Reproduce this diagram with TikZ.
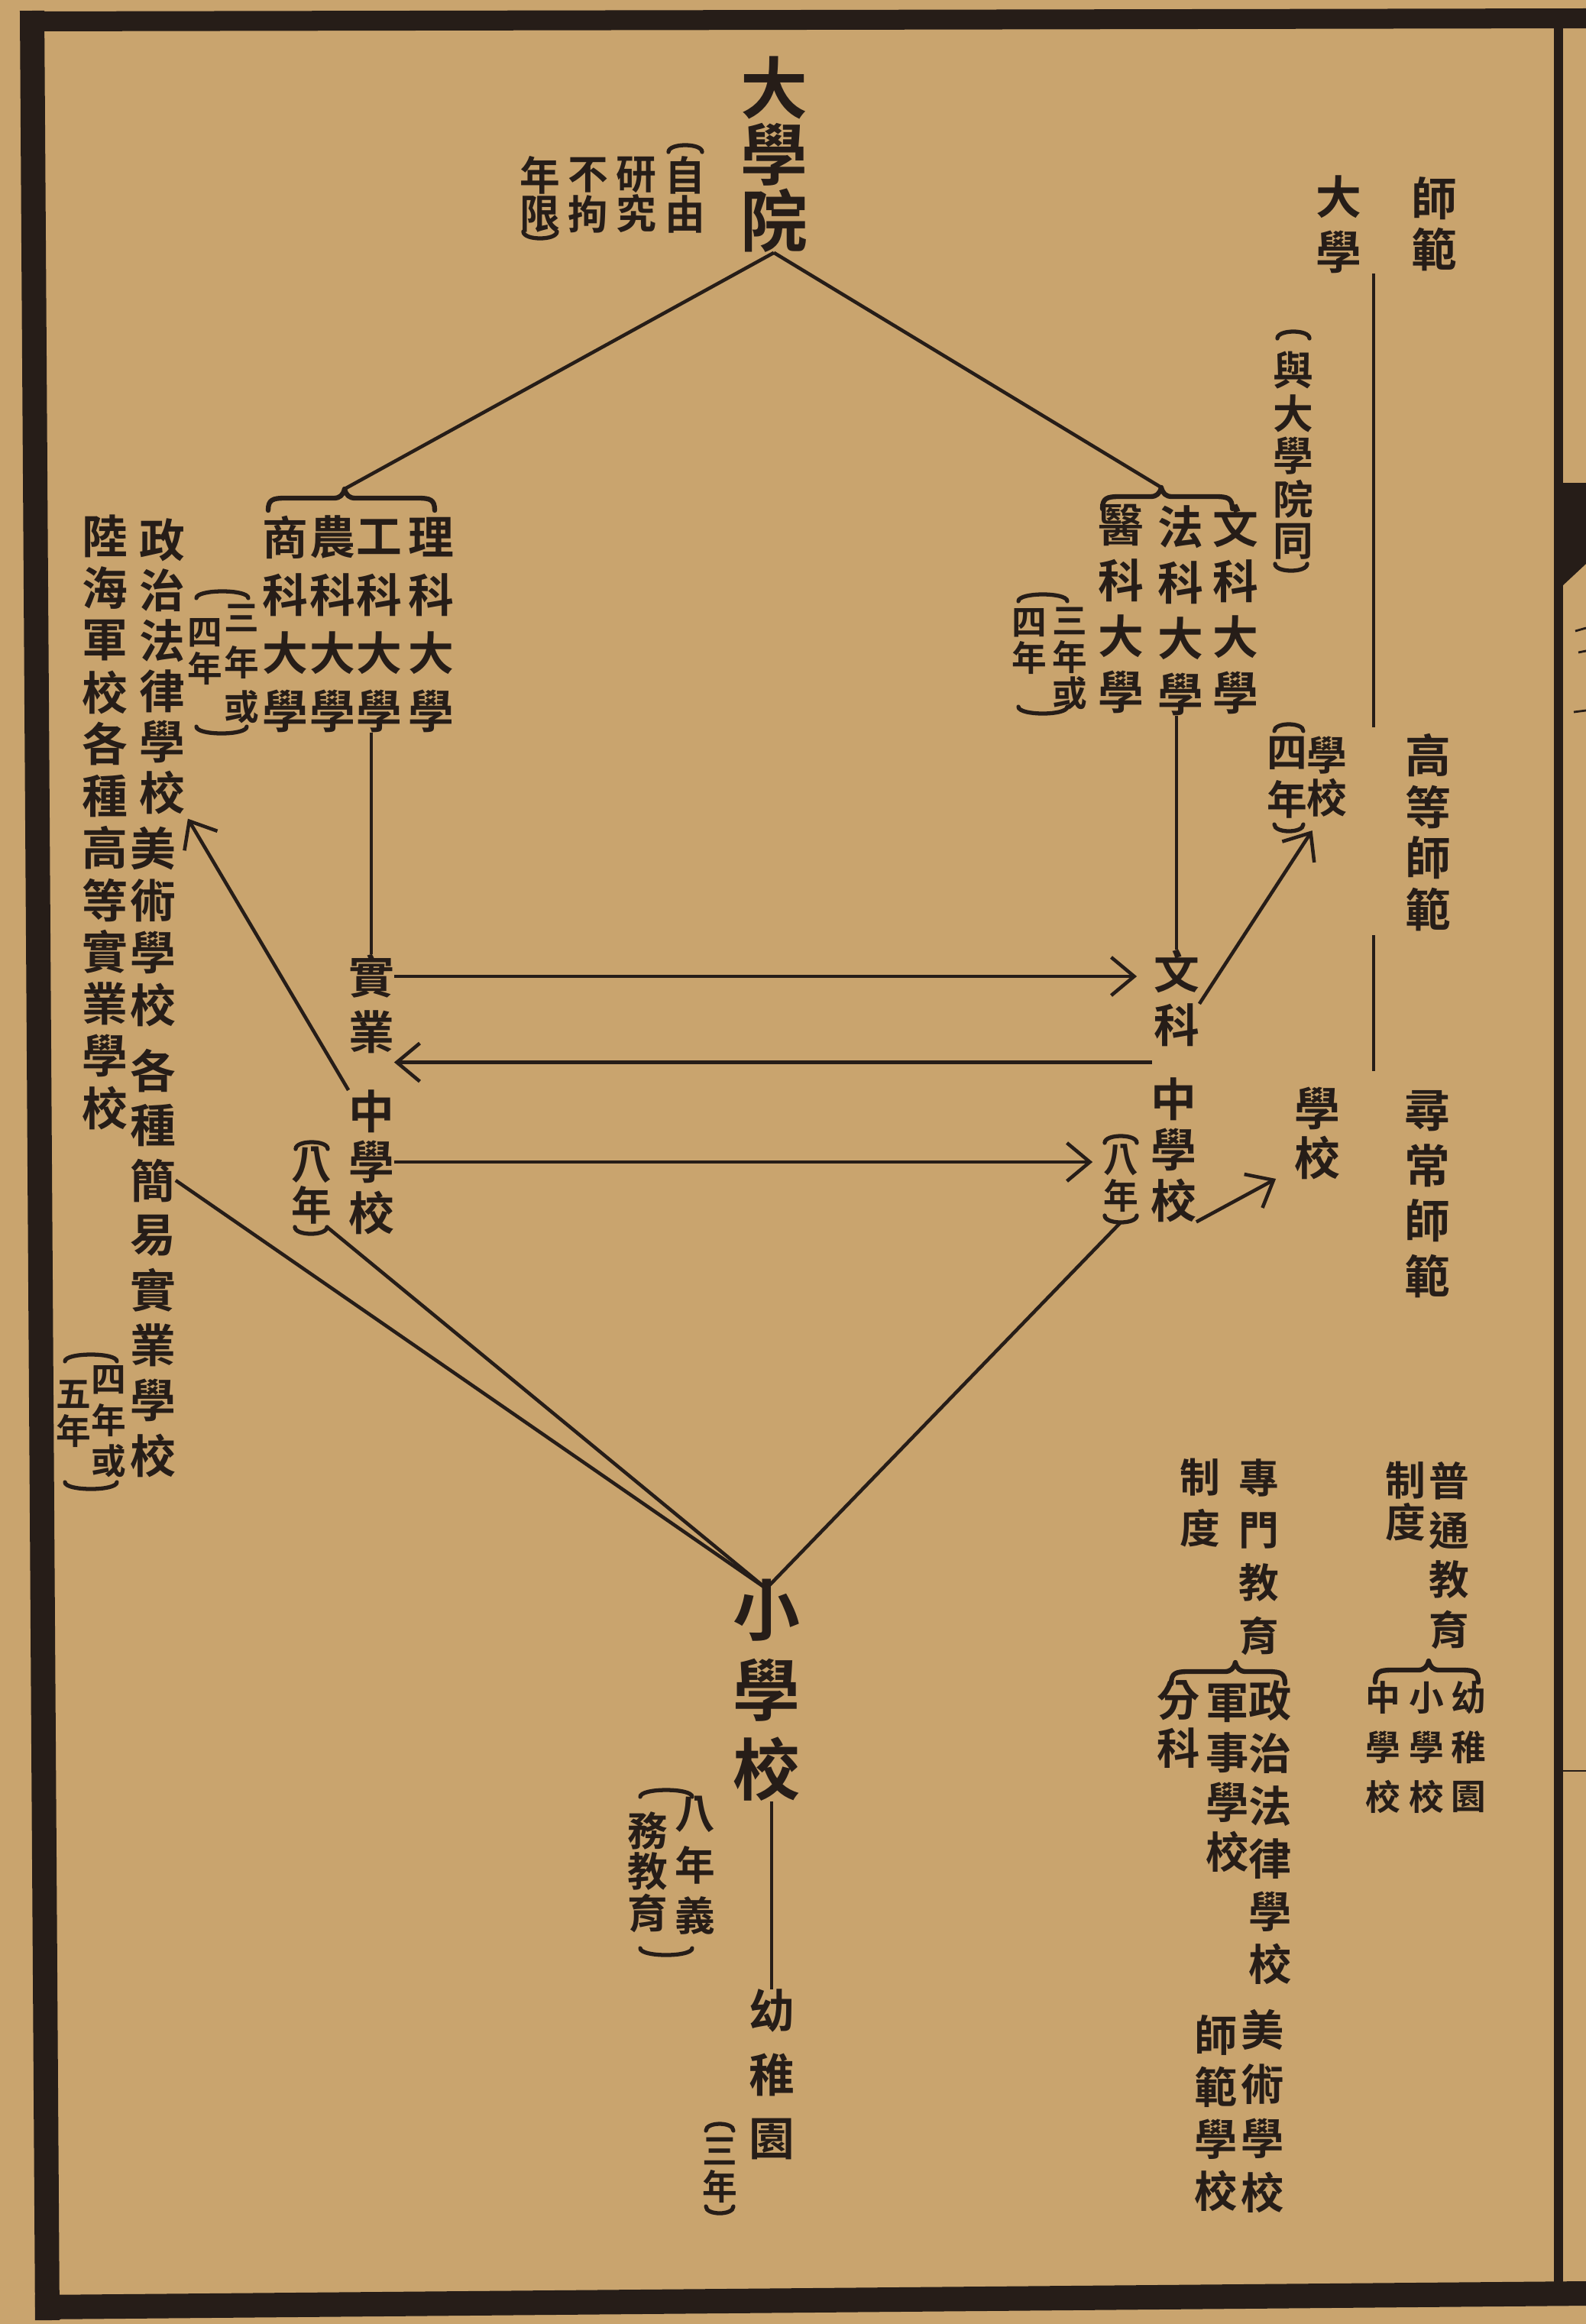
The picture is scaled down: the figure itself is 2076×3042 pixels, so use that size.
\documentclass[tikz,border=0pt]{standalone}
\usepackage{fontspec}
\newfontfamily\cjk{Noto Sans CJK TC}[BoldFont={Noto Sans CJK TC Bold}]
\usetikzlibrary{arrows.meta,calc}
\definecolor{paper}{RGB}{201,164,110}
\definecolor{ink}{RGB}{38,29,24}
\tikzset{
 ch/.style={inner sep=0pt, outer sep=0pt, text=ink, anchor=center},
 big/.style={ch, font={\cjk\bfseries\fontsize{25pt}{25pt}\selectfont}},
 mid/.style={ch, font={\cjk\bfseries\fontsize{17pt}{17pt}\selectfont}},
 smid/.style={ch, font={\cjk\bfseries\fontsize{16pt}{16pt}\selectfont}},
 sm/.style={ch, font={\cjk\bfseries\fontsize{15pt}{15pt}\selectfont}},
 xs/.style={ch, font={\cjk\bfseries\fontsize{13pt}{13pt}\selectfont}},
 conn/.style={draw=ink, line width=1.3pt},
 arr/.style={-{Straight Barb[length=3mm,width=5mm]}},
 paren/.style={draw=ink, line width=1.5pt, line cap=round},
 bracest/.style={draw=ink, line width=1.8pt, line cap=round, line join=round},
 frame/.style={draw=ink},
}
% vertical column: name, x, y of first char, step, style, chars
\newcommand\vcol[6]{%
  \foreach \vch [count=\ii from 0] in {#6}{%
    \node[#5] (#1-\ii) at (#2,{#3+\ii*#4}) {\vch};}}
% upper paren (arch up): name, x, y, half width
\newcommand\parup[4]{%
  \draw[paren] ({#2-#4},{#3+7}) .. controls ({#2-#4},{#3-5}) and ({#2+#4},{#3-5}) .. ({#2+#4},{#3+7});
  \coordinate (#1) at (#2,#3);}
% lower paren (arch down)
\newcommand\pardn[4]{%
  \draw[paren] ({#2-#4},{#3-7}) .. controls ({#2-#4},{#3+5}) and ({#2+#4},{#3+5}) .. ({#2+#4},{#3-7});
  \coordinate (#1-l) at ({#2-#4},{#3-7});
  \coordinate (#1-r) at ({#2+#4},{#3-7});
  \coordinate (#1) at (#2,{#3+2});}
% brace: xL, xApex, xR, y
\newcommand\brc[4]{%
  \draw[bracest] (#1,{#4+16}) .. controls (#1,{#4+2}) and ({#1+6},#4) .. ({#1+22},#4)
    -- ({#2-14},#4) .. controls ({#2-6},#4) and ({#2-2},{#4-4}) .. (#2,{#4-12})
    .. controls ({#2+2},{#4-4}) and ({#2+6},#4) .. ({#2+14},#4)
    -- ({#3-22},#4) .. controls ({#3-6},#4) and (#3,{#4+2}) .. (#3,{#4+16});}
\begin{document}
\begin{tikzpicture}[x=0.01cm,y=-0.01cm]
\useasboundingbox (0,0) rectangle (2076,3042);
\fill[paper] (0,0) rectangle (2076,3042);
% frame
\draw[frame, line width=0.26cm] (28,28) -- (2076,24);
\draw[frame, line width=0.32cm] (42,14) -- (62,3037);
\draw[frame, line width=0.32cm] (46,3020) -- (2076,3002);
\draw[frame, line width=0.12cm] (2040,24) -- (2040,3008);
% fragments of next page
\fill[ink] (2046,632) -- (2076,632) -- (2076,738) -- (2046,766) -- cycle;
\draw[frame, line width=0.8pt] (2062,826) -- (2076,822);
\draw[frame, line width=0.8pt] (2066,854) -- (2076,852);
\draw[frame, line width=0.8pt] (2060,932) -- (2076,930);
\draw[frame, line width=0.8pt] (2046,2318) -- (2076,2318);

% ---- top
\vcol{dxy}{1013}{115}{87}{big}{大,學,院}
\vcol{nta}{897}{229}{51}{sm}{自,由}
\vcol{ntb}{833}{229}{51}{sm}{研,究}
\vcol{ntc}{770}{229}{51}{sm}{不,拘}
\vcol{ntd}{707}{229}{51}{sm}{年,限}
\parup{ntpu}{897}{192}{22}
\pardn{ntpd}{707}{310}{22}

% ---- left group
\brc{351}{451}{569}{652}
\coordinate (lbA) at (451,640);
\vcol{li}{564}{703}{76}{mid}{理,科,大,學}
\vcol{gong}{496}{703}{76}{mid}{工,科,大,學}
\vcol{nong}{435}{703}{76}{mid}{農,科,大,學}
\vcol{shang}{373}{703}{76}{mid}{商,科,大,學}
\vcol{lna}{316}{809}{58}{xs}{三,年,或}
\vcol{lnb}{268}{828}{47}{xs}{四,年}
\parup{lnpu}{291}{776}{34}
\pardn{lnpd}{290}{958}{33}

% ---- far left
\vcol{zz}{212}{707}{66}{mid}{政,治,法,律,學,校}
\vcol{ms}{200}{1111}{68}{mid}{美,術,學,校}
\vcol{gz}{200}{1401}{72}{mid}{各,種,簡,易,實,業,學,校}
\vcol{lh}{137}{702}{68}{mid}{陸,海,軍,校,各,種,高,等,實,業,學,校}
\vcol{lfa}{142}{1806}{53}{xs}{四,年,或}
\vcol{lfb}{96}{1825}{48}{xs}{五,年}
\parup{lfpu}{119}{1775}{34}
\pardn{lfpd}{119}{1947}{34}

% ---- middle left
\vcol{sy}{486}{1278}{73}{mid}{實,業}
\vcol{zxl}{486}{1455}{66}{mid}{中,學,校}
\vcol{bnL}{408}{1525}{52}{sm}{八,年}
\parup{bnLu}{408}{1497}{21}
\pardn{bnLd}{407}{1613}{21}

% ---- right group
\brc{1443}{1520}{1613}{650}
\coordinate (rbA) at (1520,638);
\vcol{wen}{1617}{688}{73}{mid}{文,科,大,學}
\vcol{fa}{1545}{690}{73}{mid}{法,科,大,學}
\vcol{yi}{1467}{687}{73}{mid}{醫,科,大,學}
\vcol{rna}{1400}{813}{47}{xs}{三,年,或}
\vcol{rnb}{1347}{815}{46}{xs}{四,年}
\parup{rnpu}{1365}{780}{32}
\pardn{rnpd}{1365}{932}{32}
\vcol{wk}{1540}{1271}{71}{mid}{文,科}
\vcol{zxr}{1536}{1439}{66}{mid}{中,學,校}
\vcol{bnR}{1467}{1518}{47}{xs}{八,年}
\parup{bnRu}{1467}{1489}{21}
\pardn{bnRd}{1467}{1598}{21}

% ---- right legend
\vcol{dx2}{1752}{258}{72}{mid}{大,學}
\vcol{sf}{1877}{260}{67}{mid}{師,範}
\vcol{yd}{1693}{485}{56}{sm}{與,大,學,院,同}
\parup{ydu}{1693}{436}{21}
\pardn{ydd}{1690}{745}{21}
\vcol{sx4}{1737}{989}{55}{sm}{學,校}
\vcol{sn}{1685}{986}{60}{sm}{四,年}
\parup{snu}{1687}{950}{19}
\pardn{snd}{1687}{1086}{19}
\vcol{gd}{1869}{989}{67}{mid}{高,等,師,範}
\vcol{xx}{1724}{1451}{64}{mid}{學,校}
\vcol{xc}{1868}{1454}{72}{mid}{尋,常,師,範}
\coordinate (s1a) at (1798,358);
\coordinate (s1b) at (1798,952);
\coordinate (s2a) at (1798,1224);
\coordinate (s2b) at (1798,1402);
\draw[conn, line width=1pt] (s1a) -- (s1b);
\draw[conn, line width=1pt] (s2a) -- (s2b);

% ---- bottom centre
\vcol{xxx}{1003}{2108}{104}{big}{小,學,校}
\vcol{yzy}{1010}{2632}{84}{mid}{幼,稚,園}
\vcol{sn3}{942}{2816}{46}{xs}{三,年}
\parup{sn3u}{942}{2782}{18}
\pardn{sn3d}{942}{2895}{18}
\vcol{ywa}{910}{2375}{66}{sm}{八,年,義}
\vcol{ywb}{848}{2396}{54}{sm}{務,教,育}
\parup{ywu}{872}{2345}{34}
\pardn{ywd}{872}{2557}{34}

% ---- bottom right legends
\vcol{pt}{1897}{1938}{65}{sm}{普,通,教,育}
\vcol{zda}{1840}{1938}{54}{sm}{制,度}
\brc{1800}{1870}{1935}{2186}
\vcol{yz2}{1922}{2222}{65}{xs}{幼,稚,園}
\vcol{xx2}{1867}{2222}{65}{xs}{小,學,校}
\vcol{zx2}{1810}{2222}{65}{xs}{中,學,校}
\vcol{zm}{1648}{1934}{69}{sm}{專,門,教,育}
\vcol{zdb}{1571}{1934}{66}{sm}{制,度}
\brc{1533}{1617}{1682}{2188}
\vcol{zz2}{1663}{2226}{69}{smid}{政,治,法,律,學,校}
\vcol{js}{1607}{2229}{65}{smid}{軍,事,學,校}
\vcol{fk2}{1543}{2226}{62}{smid}{分,科}
\vcol{ms2}{1653}{2657}{71}{smid}{美,術,學,校}
\vcol{sf2}{1592}{2664}{68}{smid}{師,範,學,校}

% ---- connectors
\draw[conn] (dxy-2.south) -- (lbA);
\draw[conn] (dxy-2.south) -- (rbA);
\draw[conn] (gong-3.south -| sy-0.north) -- (sy-0.north);
\draw[conn] (fa-3.south -| wk-0.north) -- (wk-0.north);
\draw[conn,arr,shorten >=0.22cm] (sy-0.east) -- (sy-0.east -| wk-0.west);
\coordinate (a2s) at ($(wk-1.south west)!0.5!(zxr-0.north west)$);
\coordinate (a2e) at ($(sy-1.south east)!0.5!(zxl-0.north east)$);
\draw[conn,arr] (a2s) -- (a2s -| a2e);
\draw[conn,arr,shorten >=0.14cm] (zxl-1.east) -- (zxl-1.east -| bnR-0.west);
\draw[conn,arr] (zxl-0.north west) -- ([shift={(16,-11)}]ms-0.north east);
\draw[conn,arr] (wk-1.north east) -- ([shift={(7,18)}]sx4-1.south west);
\draw[conn,arr] (zxr-2.south east) -- ([shift={(-24,28)}]xx-1.west);
\coordinate (xA) at ([yshift=-0.12cm]xxx-0.north);
\draw[conn] (xA) -- (gz-2.east);
\draw[conn] (xA) -- (bnLd-r);
\draw[conn] (xA) -- (bnRd);
\draw[conn] (xxx-2.south -| yzy-0.north) -- (yzy-0.north);
\end{tikzpicture}
\end{document}
